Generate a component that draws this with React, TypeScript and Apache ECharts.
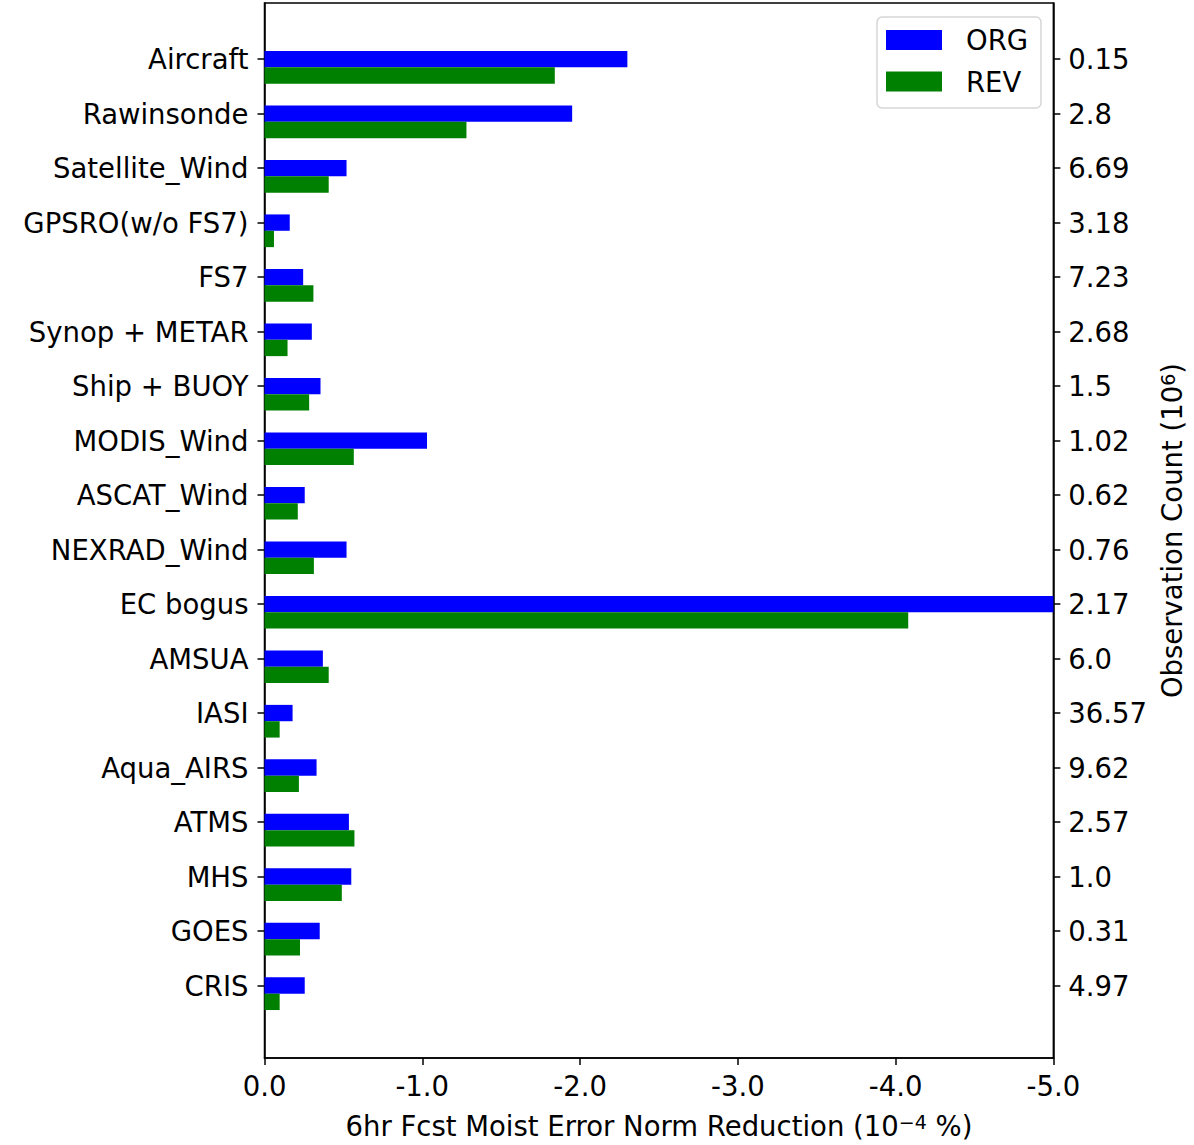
import React, { useEffect, useRef } from "react";
import * as echarts from "echarts";

const categories = [
  "Aircraft", "Rawinsonde", "Satellite_Wind", "GPSRO(w/o FS7)", "FS7", "Synop + METAR",
  "Ship + BUOY", "MODIS_Wind", "ASCAT_Wind", "NEXRAD_Wind", "EC bogus", "AMSUA",
  "IASI", "Aqua_AIRS", "ATMS", "MHS", "GOES", "CRIS",
];
const orgValues = [-2.30, -1.95, -0.52, -0.16, -0.245, -0.30, -0.355, -1.03, -0.255, -0.52, -5.0, -0.37, -0.178, -0.33, -0.535, -0.55, -0.35, -0.255];
const revValues = [-1.84, -1.28, -0.407, -0.06, -0.31, -0.146, -0.283, -0.566, -0.211, -0.313, -4.08, -0.407, -0.096, -0.218, -0.57, -0.49, -0.225, -0.096];
const obsCounts = ["0.15", "2.8", "6.69", "3.18", "7.23", "2.68", "1.5", "1.02", "0.62", "0.76", "2.17", "6.0", "36.57", "9.62", "2.57", "1.0", "0.31", "4.97"];
const xTicks = [0, -1, -2, -3, -4, -5];

const FONT = "DejaVu Sans";
const FS = 27.5;
const SUP = 19;
const BAR_H = 0.3;

function makeSeries(name: string, values: number[], color: string, offset: number) {
  return {
    name,
    type: "custom",
    clip: true,
    data: values.map((v, i) => [v, i]),
    encode: { x: 0, y: 1 },
    itemStyle: { color },
    renderItem: (params: any, api: any) => {
      const v = api.value(0);
      const i = api.value(1);
      const p1 = api.coord([0, i + offset - BAR_H / 2]);
      const p2 = api.coord([v, i + offset + BAR_H / 2]);
      const x = Math.min(p1[0], p2[0]);
      const y = Math.min(p1[1], p2[1]);
      const shape = echarts.graphic.clipRectByRect(
        { x, y, width: Math.abs(p2[0] - p1[0]), height: Math.abs(p2[1] - p1[1]) },
        params.coordSys
      );
      return shape ? { type: "rect", shape, style: { fill: color } } : null;
    },
  };
}

export default function App() {
  const ref = useRef<HTMLDivElement>(null);
  useEffect(() => {
    document.body.style.margin = "0";
    const chart = echarts.init(ref.current!, null, { renderer: "svg" });
    const idx = categories.map((_, i) => i);
    const nameRich = {
      base: { fontFamily: FONT, fontSize: FS, color: "#000" },
      sup: { fontFamily: FONT, fontSize: SUP, color: "#000", verticalAlign: "top" },
    };
    chart.setOption({
      animation: false,
      backgroundColor: "#fff",
      textStyle: { fontFamily: FONT },
      grid: {
        left: 264.5, right: 140, top: 3, bottom: 81,
        show: true, borderColor: "#000", borderWidth: 1.5, containLabel: false,
      },
      graphic: [
        {
          type: "rect", z: 10,
          shape: { x: 877, y: 17, width: 164, height: 91, r: 5 },
          style: { fill: "rgba(255,255,255,0.8)", stroke: "#d6d6d6", lineWidth: 1.5 },
        },
      ],
      legend: {
        orient: "vertical",
        left: 886, top: 26,
        padding: 0,
        itemWidth: 56, itemHeight: 20, itemGap: 13.5,
        z: 20,
        textStyle: { fontFamily: FONT, fontSize: FS, color: "#000", lineHeight: 26, padding: [0, 0, 0, 19] },
        data: [
          { name: "ORG", icon: "rect", itemStyle: { color: "#0000ff" } },
          { name: "REV", icon: "rect", itemStyle: { color: "#008000" } },
        ],
      },
      xAxis: {
        type: "value",
        min: -5, max: 0, interval: 1, inverse: true,
        name: "{base|6hr Fcst Moist Error Norm Reduction (10}{sup|−4}{base| %)}",
        nameLocation: "middle", nameGap: 54,
        nameTextStyle: { fontFamily: FONT, fontSize: FS, color: "#000", rich: nameRich },
        axisLine: { show: true, onZero: false, lineStyle: { color: "#000", width: 1.5 } },
        axisTick: { show: true, length: 7, lineStyle: { color: "#000", width: 1.5 }, customValues: xTicks },
        axisLabel: {
          fontFamily: FONT, fontSize: FS, color: "#000", margin: 14,
          customValues: xTicks,
          formatter: (v: number) => v.toFixed(1),
        },
        splitLine: { show: false },
      },
      yAxis: [
        {
          type: "value", position: "left",
          min: -1.03, max: 18.33, inverse: true,
          axisLine: { show: true, onZero: false, lineStyle: { color: "#000", width: 1.5 } },
          axisTick: { show: true, length: 7, lineStyle: { color: "#000", width: 1.5 }, customValues: idx },
          axisLabel: {
            fontFamily: FONT, fontSize: FS, color: "#000", margin: 16,
            customValues: idx,
            formatter: (v: number) => categories[Math.round(v)],
          },
          splitLine: { show: false },
        },
        {
          type: "value", position: "right",
          min: -1.03, max: 18.33, inverse: true,
          name: "{base|Observation Count (10}{sup|6}{base|)}",
          nameLocation: "middle", nameGap: 102, nameRotate: 90,
          nameTextStyle: { fontFamily: FONT, fontSize: FS, color: "#000", rich: nameRich },
          axisLine: { show: true, onZero: false, lineStyle: { color: "#000", width: 1.5 } },
          axisTick: { show: true, length: 7, lineStyle: { color: "#000", width: 1.5 }, customValues: idx },
          axisLabel: {
            fontFamily: FONT, fontSize: FS, color: "#000", margin: 15,
            customValues: idx,
            formatter: (v: number) => obsCounts[Math.round(v)],
          },
          splitLine: { show: false },
        },
      ],
      series: [
        makeSeries("ORG", orgValues, "#0000ff", 0),
        makeSeries("REV", revValues, "#008000", 0.3),
      ],
    });
    return () => chart.dispose();
  }, []);
  return <div ref={ref} style={{ position: "absolute", left: 0, top: 0, width: 1194, height: 1145 }} />;
}
